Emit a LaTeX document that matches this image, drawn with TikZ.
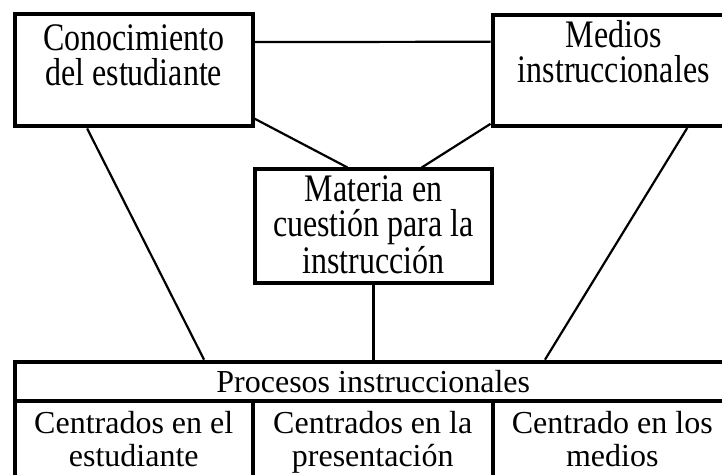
\documentclass[tikz,border=0pt]{standalone}
\usepackage{fontspec}
\setmainfont{Liberation Serif}
\newfontfamily\tallfont[FakeStretch=0.82]{Liberation Serif}
\usetikzlibrary{calc}

\begin{document}
\begin{tikzpicture}[x=0.5pt,y=-0.5pt,
  caja/.style={draw,line width=2pt,inner sep=0pt},
  linea/.style={line width=1.1pt},
  textoalto/.style={align=center,inner sep=0pt,font=\tallfont\fontsize{19.5}{17.5}\selectfont},
  textobajo/.style={align=center,inner sep=0pt,font=\fontsize{16}{16.5}\selectfont}]
\useasboundingbox (0,0) rectangle (722,475);
\clip (0,0) rectangle (722,475);
%\draw[help lines] (0,0) grid (722,475);
\node[caja,minimum width=118.75pt,minimum height=56pt] (conoc) at (133.75,70.5) {};
\node[caja,minimum width=121.25pt,minimum height=55.5pt] (medios) at (613.75,70.5) {};
\node[caja,minimum width=118.5pt,minimum height=56.75pt] (materia) at (373.5,226.25) {};
\node[caja,minimum width=358.75pt,minimum height=19.65pt,textobajo] (procesos) at (373.25,381.35) {Procesos instruccionales};
\node[caja,minimum width=119.25pt,minimum height=42pt] (estud) at (133.75,443) {};
\node[caja,minimum width=119.75pt,minimum height=42pt] (presen) at (372.75,443) {};
\node[caja,minimum width=119.75pt,minimum height=42pt] (mediosc) at (612.25,443) {};
% base = ultima linea
\node[textoalto,anchor=base] (conoctxt) at (133.75,86) {Conocimiento\\del estudiante};
\node[textoalto,anchor=base] (mediostxt) at (613.75,83) {Medios\\instruccionales};
\node[textoalto,anchor=base] (materiatxt) at (373.5,274) {Materia en\\cuestión para la\\instrucción};
\node[textobajo,anchor=base] (estudtxt) at (133.75,466) {Centrados en el\\estudiante};
\node[textobajo,anchor=base] (presentxt) at (372.75,466) {Centrados en la\\presentación};
\node[textobajo,anchor=base] (medioscxt) at (612.25,466) {Centrado en los\\medios};
\draw[linea] ($(conoc.north east)!.255!(conoc.south east)$) -- ($(medios.north west)!.25!(medios.south west)$);
\draw[linea] ($(conoc.north east)!.915!(conoc.south east)$) -- ($(materia.north west)!.392!(materia.north east)$);
\draw[linea] ($(medios.north west)!.964!(medios.south west)$) -- ($(materia.north west)!.70!(materia.north east)$);
\draw[linea] ($(conoc.south west)!.307!(conoc.south east)$) -- ($(procesos.north west)!.2655!(procesos.north east)$);
\draw[linea] ($(medios.south west)!.798!(medios.south east)$) -- ($(procesos.north west)!.738!(procesos.north east)$);
\draw[linea] (materia.south) -- (materia.south |- procesos.north);
\end{tikzpicture}
\end{document}
